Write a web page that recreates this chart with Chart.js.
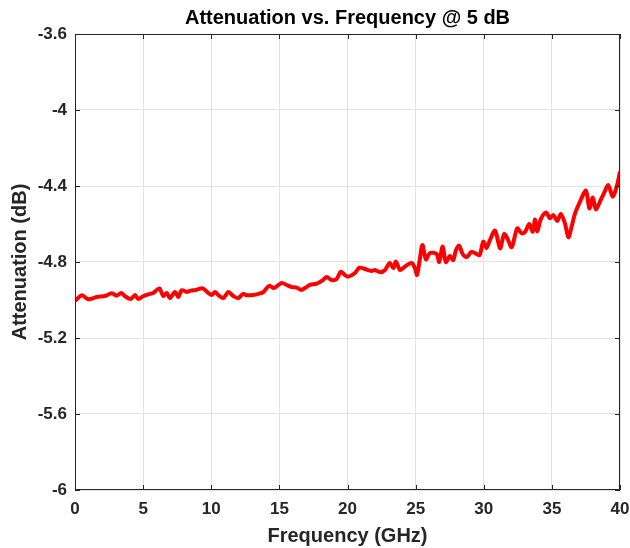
<!DOCTYPE html>
<html>
<head>
<meta charset="utf-8">
<script src="https://cdn.jsdelivr.net/npm/chart.js@4"></script>
<style>
  html, body { margin: 0; padding: 0; background: #fff; }
  #wrap { width: 630px; height: 548px; }
</style>
</head>
<body>
<div id="wrap"><canvas id="attChart" width="630" height="548"></canvas></div>
<script>
// frequency in GHz, attenuation in dB
const freq = [
  0.0, 0.07, 0.49, 0.98, 1.59, 2.2, 2.7, 3.06, 3.4, 3.67, 4.1, 4.4, 4.65, 5.0, 5.38, 5.75,
  6.19, 6.48, 6.73, 6.97, 7.34, 7.58, 7.83, 8.2, 8.44, 8.88, 9.37, 9.78, 10.03, 10.28, 10.52,
  10.89, 11.25, 11.62, 11.98, 12.35, 12.6, 13.09, 13.45, 13.82, 14.26, 14.6, 15.17, 15.53,
  15.9, 16.27, 16.63, 16.88, 17.25, 17.74, 18.2, 18.47, 18.83, 19.2, 19.5, 19.8, 20.06,
  20.55, 20.87, 21.28, 21.77, 22.0, 22.4, 22.75, 23.1, 23.36, 23.56, 23.85, 24.2, 24.7,
  24.95, 25.1, 25.3, 25.5, 25.76, 26.05, 26.54, 26.73, 26.98, 27.22, 27.52, 27.76, 27.96,
  28.2, 28.45, 28.75, 29.1, 29.48, 29.7, 29.97, 30.2, 30.46, 30.83, 31.2, 31.49, 31.73,
  32.05, 32.46, 32.78, 33.03, 33.34, 33.6, 33.76, 33.93, 34.18, 34.57, 34.86, 35.1, 35.4,
  35.65, 35.96, 36.21, 36.45, 36.7, 37.06, 37.5, 37.75, 38.0, 38.23, 38.58, 38.82, 39.14,
  39.46, 39.76, 40.0
];
const atten = [
  -4.995, -5.0, -4.975, -4.996, -4.984, -4.979, -4.965, -4.977, -4.963, -4.98, -4.995, -4.974, -4.995, -4.98, -4.97, -4.963,
  -4.939, -4.979, -4.963, -4.99, -4.958, -4.984, -4.949, -4.958, -4.952, -4.947, -4.939, -4.963, -4.974, -4.958, -4.974,
  -4.99, -4.958, -4.979, -4.99, -4.968, -4.975, -4.974, -4.968, -4.958, -4.925, -4.937, -4.91, -4.921,
  -4.932, -4.935, -4.947, -4.937, -4.921, -4.914, -4.895, -4.879, -4.895, -4.889, -4.851, -4.868, -4.877,
  -4.858, -4.83, -4.837, -4.847, -4.842, -4.854, -4.842, -4.805, -4.832, -4.798, -4.842, -4.825, -4.805,
  -4.832, -4.868, -4.79, -4.71, -4.786, -4.753, -4.758, -4.8, -4.718, -4.8, -4.768, -4.79, -4.737,
  -4.714, -4.758, -4.774, -4.747, -4.758, -4.763, -4.693, -4.726, -4.684, -4.635, -4.728, -4.653, -4.675,
  -4.722, -4.623, -4.649, -4.642, -4.6, -4.64, -4.576, -4.64, -4.576, -4.539, -4.57, -4.553, -4.584,
  -4.547, -4.597, -4.67, -4.614, -4.544, -4.483, -4.425, -4.518, -4.46, -4.523, -4.474, -4.439, -4.395,
  -4.456, -4.403, -4.325
];
const xTicks = [0, 5, 10, 15, 20, 25, 30, 35, 40];
const yTicks = [-6, -5.6, -5.2, -4.8, -4.4, -4, -3.6];
const chartTitle = "Attenuation vs. Frequency @ 5 dB";

const FONT = "'Liberation Sans', Arial, Helvetica, sans-serif";
const AXIS = "#262626";

// matlab style box with inward ticks, title centred over the axes
const boxPlugin = {
  id: "boxPlugin",
  afterDraw(chart) {
    const { ctx, chartArea: a, scales } = chart;
    ctx.save();
    ctx.strokeStyle = AXIS;
    ctx.lineWidth = 1;
    ctx.strokeRect(a.left + 0.5, a.top + 0.5, a.right - a.left - 1, a.bottom - a.top - 1);
    ctx.beginPath();
    xTicks.forEach(v => {
      const px = Math.round(scales.x.getPixelForValue(v)) + 0.5;
      ctx.moveTo(px, a.bottom); ctx.lineTo(px, a.bottom - 5);
      ctx.moveTo(px, a.top); ctx.lineTo(px, a.top + 5);
    });
    yTicks.forEach(v => {
      const py = Math.round(scales.y.getPixelForValue(v)) + 0.5;
      ctx.moveTo(a.left, py); ctx.lineTo(a.left + 5, py);
      ctx.moveTo(a.right, py); ctx.lineTo(a.right - 5, py);
    });
    ctx.stroke();

    ctx.fillStyle = "#000";
    ctx.font = "bold 20px " + FONT;
    ctx.textAlign = "center";
    ctx.textBaseline = "middle";
    ctx.fillText(chartTitle, (a.left + a.right) / 2, 18);
    ctx.restore();
  }
};

new Chart(document.getElementById("attChart").getContext("2d"), {
  type: "line",
  data: {
    datasets: [{
      data: freq.map((f, i) => ({ x: f, y: atten[i] })),
      borderColor: "#ff0000",
      borderWidth: 4,
      pointRadius: 0,
      tension: 0.3,
      fill: false
    }]
  },
  plugins: [boxPlugin],
  options: {
    responsive: false,
    animation: false,
    layout: { padding: { left: 0, right: 10, top: 34, bottom: 0 } },
    plugins: {
      legend: { display: false },
      tooltip: { enabled: false },
      title: { display: false }
    },
    scales: {
      x: {
        type: "linear",
        min: 0,
        max: 40,
        afterBuildTicks: s => { s.ticks = xTicks.map(v => ({ value: v })); },
        afterFit: s => { s.height = 58; s.paddingLeft = 0; s.paddingRight = 0; },
        grid: { color: "#e3e3e3", drawTicks: false },
        border: { display: false },
        ticks: { color: AXIS, padding: 9, maxRotation: 0, font: { family: FONT, size: 17, weight: "bold" } },
        title: {
          display: true,
          text: "Frequency (GHz)",
          color: AXIS,
          font: { family: FONT, size: 20, weight: "bold" },
          padding: { top: 0, bottom: 0 }
        }
      },
      y: {
        min: -6,
        max: -3.6,
        afterBuildTicks: s => { s.ticks = yTicks.map(v => ({ value: v })); },
        afterFit: s => { s.width = 75; },
        grid: { color: "#e3e3e3", drawTicks: false },
        border: { display: false },
        ticks: {
          color: AXIS,
          padding: 8,
          font: { family: FONT, size: 17, weight: "bold" },
          callback: v => String(Math.round(v * 10) / 10)
        },
        title: {
          display: true,
          text: "Attenuation (dB)",
          color: AXIS,
          font: { family: FONT, size: 20, weight: "bold" },
          padding: { top: 8, bottom: 0 }
        }
      }
    }
  }
});
</script>
</body>
</html>
